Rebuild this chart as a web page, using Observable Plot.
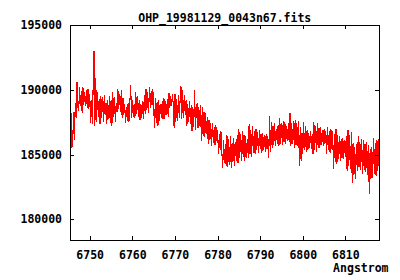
<!DOCTYPE html>
<html>
<head>
<meta charset="utf-8">
<script src="https://cdn.jsdelivr.net/npm/d3@7"></script>
<script src="https://cdn.jsdelivr.net/npm/@observablehq/plot@0.6"></script>
<style>
  html, body { margin: 0; padding: 0; background: #fff; }
</style>
</head>
<body>
<div id="chart"></div>
<script>
const title = "OHP_19981129_0043n67.fits";
const xLabel = "Angstrom";
const xTicks = [6750, 6760, 6770, 6780, 6790, 6800, 6810];
const yTicks = [180000, 185000, 190000, 195000];
const xDomain = [6745.26, 6817.9];
const yDomain = [178400, 195000];
const waveStart = 6745.3;
const waveStep = 0.2;
const flux = [
  185300, 188200, 185600, 186000, 188300, 186200, 189000, 187900, 190600, 188700,
  188400, 190200, 188800, 189900, 188300, 190200, 188900, 189800, 188800, 190000,
  188700, 190100, 188600, 189700, 187500, 189200, 187400, 190400, 193000, 187300,
  190900, 187600, 189800, 188000, 189300, 187400, 189500, 187900, 189400, 187600,
  189600, 188100, 189000, 187400, 189200, 187800, 189500, 187500, 189200, 187300,
  189800, 188000, 189400, 187600, 189000, 188300, 190100, 188600, 189700, 188400,
  190000, 187900, 189400, 188100, 188900, 187500, 188700, 187700, 189000, 187600,
  189000, 190400, 187900, 189200, 188000, 188900, 187900, 189800, 188200, 189500,
  188000, 189200, 187700, 188900, 187900, 189100, 187800, 189600, 188200, 190100,
  188500, 189800, 188300, 190200, 188700, 189900, 188900, 190100, 188800, 187100,
  189400, 187500, 189100, 187300, 189200, 187700, 188900, 187900, 189100, 187800,
  189400, 187800, 189100, 188100, 189300, 188000, 189800, 188700, 189500, 188800,
  189700, 188900, 187100, 189700, 187600, 189300, 187700, 189600, 187900, 189200,
  190300, 187800, 190000, 187900, 189600, 188100, 189200, 187300, 188900, 187600,
  189100, 187400, 188800, 186900, 188700, 187200, 190000, 187000, 188400, 189000,
  187100, 188700, 187300, 188800, 186100, 188700, 186500, 188300, 186400, 188200,
  186700, 187900, 185900, 187700, 186200, 187400, 185700, 187400, 186000, 187100,
  185800, 187300, 186100, 186900, 185100, 186600, 185400, 186800, 185200, 184000,
  186100, 184400, 185800, 184200, 186500, 184100, 186200, 184300, 186400, 184000,
  185900, 184500, 186300, 184200, 186000, 184600, 186500, 184400, 187000, 184800,
  186600, 184600, 186800, 184900, 186500, 184600, 186400, 184800, 186200, 184800,
  187400, 185100, 186900, 184900, 187200, 185200, 186800, 185100, 187000, 185400,
  186700, 185200, 186900, 185500, 186600, 185200, 186700, 185400, 186500, 185300,
  186600, 185500, 186400, 184800, 188000, 185300, 187500, 185600, 187200, 185800,
  187400, 185700, 187000, 185900, 187300, 185700, 187800, 185900, 187400, 185800,
  187600, 186000, 187500, 185900, 187200, 186100, 187400, 186000, 188200, 185700,
  187400, 185900, 187600, 185600, 187700, 185800, 187400, 185700, 187600, 184200,
  187100, 184600, 186700, 185100, 187500, 185400, 187200, 185300, 186900, 185400,
  186700, 185600, 186800, 185500, 186600, 185100, 187500, 185400, 187200, 185300,
  187400, 185600, 187100, 185600, 187100, 185800, 186900, 185700, 187000, 185900,
  186800, 185100, 187100, 185400, 186800, 185200, 187000, 185500, 186800, 184000,
  186600, 184500, 187000, 184300, 186500, 184700, 186400, 184600, 186200, 184800,
  186300, 184700, 186100, 184900, 186400, 183800, 186900, 184200, 186500, 184000,
  186700, 182900, 185900, 183500, 185600, 183200, 185800, 183800, 186400, 184100,
  186000, 183900, 186200, 183600, 186100, 183900, 185800, 183700, 186000, 183500,
  185700, 182000, 185400, 183200, 185600, 183300, 186300, 183600, 185900, 183400,
  186100, 183800, 185700, 186700
];

const data = flux.map((f, i) => ({wave: waveStart + i * waveStep, flux: f}));
const font = "'DejaVu Sans Mono', monospace";

const chart = Plot.plot({
  width: 400,
  height: 280,
  marginLeft: 69.5,
  marginRight: 21,
  marginTop: 25,
  marginBottom: 40,
  style: {fontFamily: font, fontSize: "11.5px", fontWeight: "bold", background: "#fff", color: "#000", overflow: "visible"},
  x: {domain: xDomain, ticks: xTicks, label: null, tickFormat: d => String(d)},
  y: {domain: yDomain, ticks: yTicks, label: null, tickFormat: d => String(d)},
  marks: [
    Plot.line(data, {x: "wave", y: "flux", stroke: "#ff0000", strokeWidth: 1.1, clip: true, shapeRendering: "crispEdges"}),
    Plot.frame({stroke: "#000", strokeWidth: 1, shapeRendering: "crispEdges"}),
    Plot.tickX(xTicks, {x: d => d, insetBottom: 211, stroke: "#000", shapeRendering: "crispEdges"}),
    Plot.tickX(xTicks, {x: d => d, insetTop: 211, stroke: "#000", shapeRendering: "crispEdges"}),
    Plot.tickY(yTicks, {y: d => d, insetRight: 305.5, stroke: "#000", shapeRendering: "crispEdges"}),
    Plot.tickY(yTicks, {y: d => d, insetLeft: 305.5, stroke: "#000", shapeRendering: "crispEdges"}),
    Plot.axisX(xTicks, {tickSize: 0, tickPadding: 10, label: null, tickFormat: d => String(d)}),
    Plot.axisY(yTicks, {tickSize: 0, tickPadding: 8, label: null, tickFormat: d => String(d)}),
    Plot.text([title], {frameAnchor: "top", dy: -12, text: d => d, fontSize: 11.5, fontWeight: "bold"}),
    Plot.text([xLabel], {frameAnchor: "bottom-right", dx: 9, dy: 31, textAnchor: "end", text: d => d, fontSize: 11.5, fontWeight: "bold"})
  ]
});
document.getElementById("chart").appendChild(chart);
</script>
</body>
</html>
